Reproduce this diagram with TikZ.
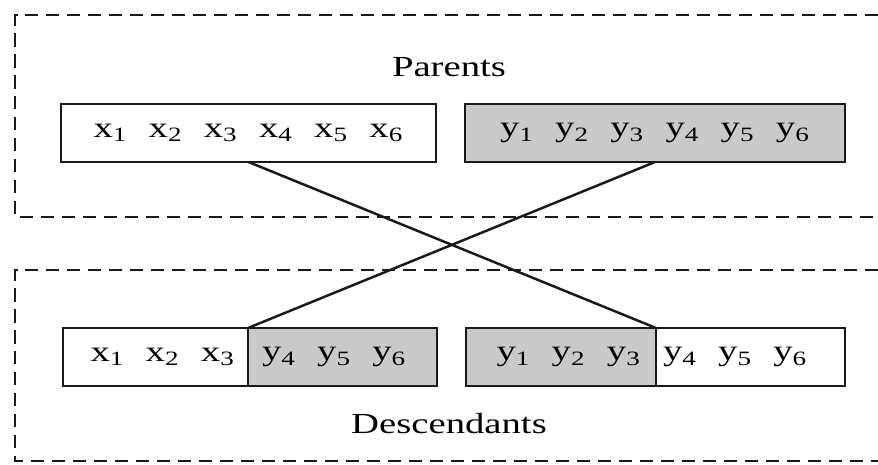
\documentclass[tikz,border=0pt]{standalone}
\usepackage{fontspec}
\setmainfont{Liberation Serif}
\usepackage{graphicx}
\usetikzlibrary{positioning}
\definecolor{fillG}{RGB}{202,202,202}
\definecolor{lineK}{RGB}{25,25,25}
\newcommand{\px}{0.567pt}
\newcommand{\wide}[1]{\scalebox{1.33}[1]{#1}}
\newcommand{\gn}[2]{#1\textsubscript{#2}}
\newcommand{\gp}{\hspace{9pt}}
\tikzset{
  % Frames
  frameline/.style = {draw=lineK, line width=1.5pt, dash pattern=on 7.4pt off 4.5pt},
  % Chromosomes
  chrom/.style  = {draw=lineK, line width=1.5pt, minimum height=58*\px,
                   inner ysep=0pt, outer sep=0pt, font=\fontsize{16.5}{20}\selectfont},
  chromW/.style = {chrom, fill=white},
  chromG/.style = {chrom, fill=fillG},
  % Crossing lines
  cross/.style  = {draw=lineK, line width=1.4pt},
  % Titles
  title/.style  = {font=\fontsize{16.5}{20}\selectfont, inner sep=0pt},
}
\begin{document}
\begin{tikzpicture}[x=\px, y=-\px]
  \useasboundingbox (0,0) rectangle (878,465);
  % Frames
  \draw[frameline] (878,15) -| (15,217) -- (878,217);
  \draw[frameline] (878,270) -| (15,461) -- (878,461);
  % Parents
  \node[title] (parT) at (449,67) {\wide{Parents}};
  \node[chromW, minimum width=375*\px] (par1) at (248.5,133)
    {\wide{\gn{x}{1}\gp\gn{x}{2}\gp\gn{x}{3}\gp\gn{x}{4}\gp\gn{x}{5}\gp\gn{x}{6}}};
  \node[chromG, minimum width=380*\px] (par2) at (655,133)
    {\wide{\gn{y}{1}\gp\gn{y}{2}\gp\gn{y}{3}\gp\gn{y}{4}\gp\gn{y}{5}\gp\gn{y}{6}}};
  % Descendants
  \node[chromW, text width=159*\px, inner xsep=13*\px, align=right] (ch1a) at (155.5,357)
    {\wide{\gn{x}{1}\gp\gn{x}{2}\gp\gn{x}{3}}};
  \node[chromG, text width=161*\px, inner xsep=14*\px, align=left, right=0pt of ch1a] (ch1b)
    {\wide{\gn{y}{4}\gp\gn{y}{5}\gp\gn{y}{6}}};
  \node[chromG, text width=160*\px, inner xsep=15*\px, align=right] (ch2a) at (561,357)
    {\wide{\gn{y}{1}\gp\gn{y}{2}\gp\gn{y}{3}}};
  \node[chromW, text width=175*\px, inner xsep=7*\px, align=left, right=0pt of ch2a] (ch2b)
    {\wide{\gn{y}{4}\gp\gn{y}{5}\gp\gn{y}{6}}};
  \node[title] (chT) at (449,424) {\wide{Descendants}};
  % Crossing
  \draw[cross] (par1.south) -- (ch2a.north east);
  \draw[cross] (par2.south) -- (ch1a.north east);
\end{tikzpicture}
\end{document}
